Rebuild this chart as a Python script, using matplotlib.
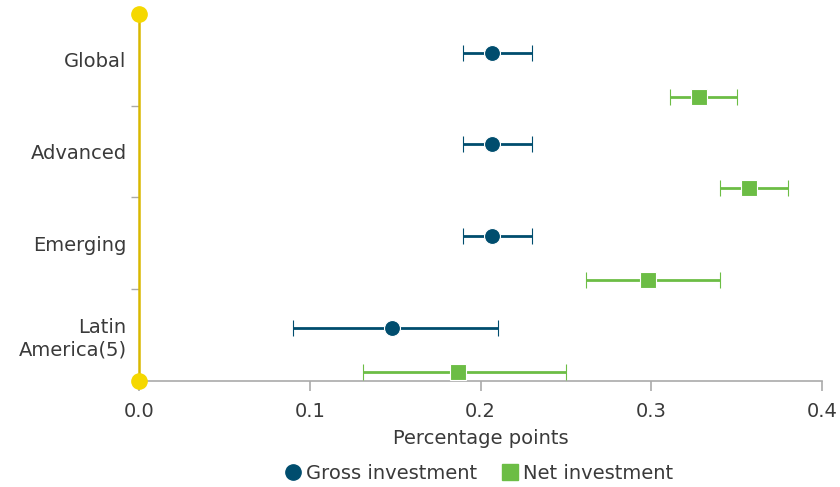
import matplotlib
matplotlib.use('Agg')
import matplotlib.pyplot as plt
from matplotlib.lines import Line2D

plt.rcParams['font.family'] = ['DejaVu Sans']

# データ
regions = ['Global', 'Advanced', 'Emerging', 'Latin\nAmerica(5)']
gross = [0.207, 0.207, 0.207, 0.148]
gross_lo = [0.190, 0.190, 0.190, 0.090]
gross_hi = [0.230, 0.230, 0.230, 0.210]
net = [0.328, 0.357, 0.298, 0.187]
net_lo = [0.311, 0.340, 0.262, 0.131]
net_hi = [0.350, 0.380, 0.340, 0.250]

c_gross = '#004d6e'
c_net = '#6cbd45'
c_axis = '#d9b800'
c_grey = '#aaaaaa'
c_text = '#3a3a3a'

fig = plt.figure(figsize=(8.4, 4.87), dpi=100)
ax = fig.add_axes([0.1655, 0.2177, 0.8131, 0.7536])

n = len(regions)
y_gross = [i + 0.42 for i in range(n)]
y_net = [i + 0.90 for i in range(n)]

err_g = [[g - lo for g, lo in zip(gross, gross_lo)], [hi - g for g, hi in zip(gross, gross_hi)]]
err_n = [[v - lo for v, lo in zip(net, net_lo)], [hi - v for v, hi in zip(net, net_hi)]]

ax.errorbar(gross, y_gross, xerr=err_g, fmt='o', color=c_gross, ms=11.5,
            mec='white', mew=0.8, elinewidth=2.0, capsize=6, capthick=2.0, zorder=3)
ax.errorbar(net, y_net, xerr=err_n, fmt='s', color=c_net, ms=11,
            mec='white', mew=0.8, elinewidth=2.0, capsize=6, capthick=2.0, zorder=3)

ax.set_xlim(0, 0.4)
ax.set_ylim(n, 0)

# 軸の見た目
for s in ['top', 'right', 'left']:
    ax.spines[s].set_visible(False)
ax.spines['bottom'].set_color(c_grey)
ax.spines['bottom'].set_linewidth(1.2)
ax.plot([0, 0], [0, n], color=c_axis, lw=1.8, zorder=4, clip_on=False)
ax.plot([0, 0], [0, n], 'o', color='#f5d800', ms=11, zorder=5, clip_on=False)

ax.set_xticks([0, 0.1, 0.2, 0.3, 0.4])
ax.set_xticklabels(['0.0', '0.1', '0.2', '0.3', '0.4'])
ax.tick_params(axis='x', colors=c_grey, labelcolor=c_text, labelsize=14, length=7, width=1.2, pad=8)

ax.set_yticks(range(1, n))
ax.set_yticklabels([])
ax.set_yticks([i + 0.5 for i in range(n)], minor=True)
ax.set_yticklabels(regions, minor=True, multialignment='right')
ax.tick_params(axis='y', which='major', colors=c_grey, length=6, width=1.0)
ax.tick_params(axis='y', which='minor', length=0, labelcolor=c_text, labelsize=14, pad=9)

ax.set_xlabel('Percentage points', fontsize=14, color=c_text, labelpad=6)

handles = [
    Line2D([], [], marker='o', ls='', color=c_gross, ms=11),
    Line2D([], [], marker='s', ls='', color=c_net, ms=11),
]
fig.legend(handles, ['Gross investment', 'Net investment'], loc='center',
           bbox_to_anchor=(0.568, 0.028), ncol=2, frameon=False, fontsize=14,
           handletextpad=0.05, handlelength=1.2, columnspacing=1.1, labelcolor=c_text)

fig.savefig('out.png', dpi=100)
